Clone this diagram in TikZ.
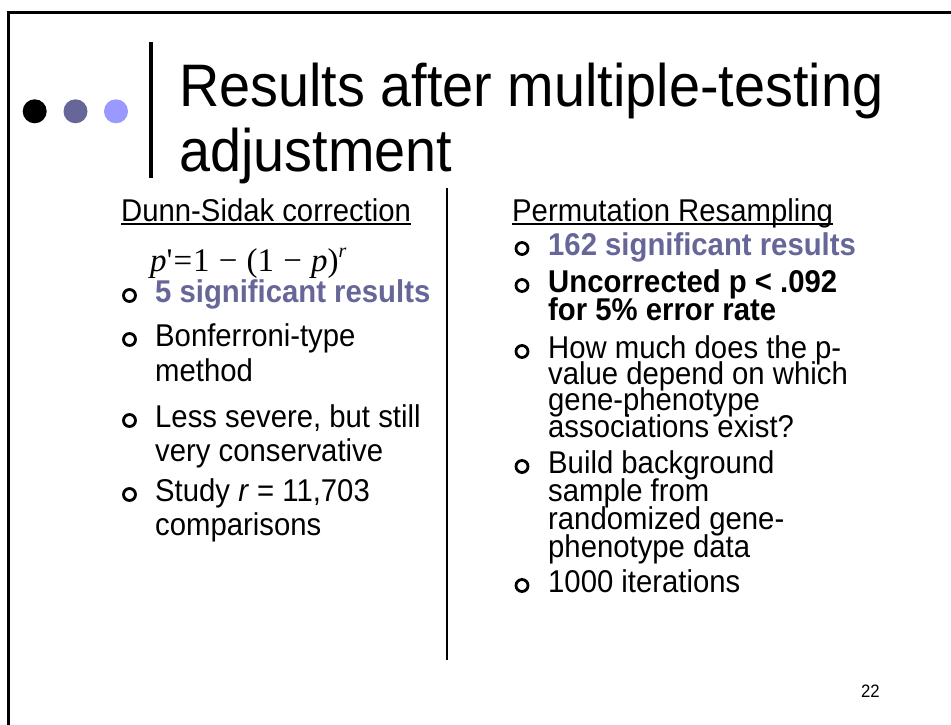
\documentclass[tikz,border=0pt]{standalone}
\usepackage{fontspec}
\setmainfont{Liberation Sans}[FakeStretch=0.93]
\newfontfamily\eqfont{Liberation Serif}
\definecolor{accent}{HTML}{666699}
\definecolor{lightaccent}{HTML}{9999FF}
\begin{document}
\begin{tikzpicture}[x=1pt,y=-1pt,
  line/.style={anchor=base west,inner sep=0pt,font=\fontsize{31.5}{36}\selectfont},
  hot/.style={line,font=\fontsize{31.5}{36}\selectfont\bfseries,text=accent},
  strong/.style={line,font=\fontsize{31.5}{36}\selectfont\bfseries},
  ttl/.style={anchor=base west,inner sep=0pt,font=\fontsize{60}{65}\selectfont},
  ring/.style={circle,draw,line width=2.8pt,minimum size=12pt,inner sep=0pt},
  dot/.style={circle,minimum size=24pt,inner sep=0pt}]
\useasboundingbox (0,0) rectangle (951,725);
\fill[white] (0,0) rectangle (951,725);

% slide frame
\draw[line width=3pt] (951,12.5) -- (8.2,12.5) -- (8.2,725);

% title decoration
\node[dot,fill=black] (d1) at (34.7,111.3) {};
\node[dot,fill=accent] (d2) at (75.5,111.3) {};
\node[dot,fill=lightaccent] (d3) at (116,111.3) {};
\draw[line width=3.5pt] (150.8,42) -- (150.8,178);

% title
\node[ttl] (t1) at (179,106.5) {Results after multiple-testing};
\node[ttl] (t2) at (179,171.5) {adjustment};

% column divider
\draw[line width=2.5pt] (447,188) -- (447,660);

% left column
\node[line] (lh) at (121,221) {Dunn-Sidak correction};
\draw[line width=1.8pt] ([yshift=-3pt]lh.base west) -- ([yshift=-3pt]lh.base east);
\node[anchor=base west,inner sep=0pt,font=\eqfont\fontsize{33}{36}\selectfont] (eq) at (150,271)
  {\itshape p\/\upshape'\kern1pt=\kern1pt1\;−\;(1\;−\;\itshape p\/\upshape)\raisebox{0.42em}{\fontsize{20}{22}\selectfont\itshape r}};
\node[hot] (l1) at (155,302) {5 significant results};
\node[line] (l2a) at (155,346) {Bonferroni-type};
\node[line] (l2b) at (155,381) {method};
\node[line] (l3a) at (155,427) {Less severe, but still};
\node[line] (l3b) at (155,461) {very conservative};
\node[line] (l4a) at (155,501) {Study \textit{r} = 11,703};
\node[line] (l4b) at (155,535) {comparisons};
\foreach \n/\y in {1/302,2/346,3/427,4/501}
  \node[ring] (lb\n) at (129.5,\y-6.5) {};

% right column
\node[line] (rh) at (512,221) {Permutation Resampling};
\draw[line width=1.8pt] ([yshift=-3pt]rh.base west) -- ([yshift=-3pt]rh.base east);
\node[hot] (r1) at (548,255) {162 significant results};
\node[strong] (r2a) at (548,292) {Uncorrected p < .092};
\node[strong] (r2b) at (548,320) {for 5\% error rate};
\node[line] (r3a) at (548,358) {How much does the p-};
\node[line] (r3b) at (548,384) {value depend on which};
\node[line] (r3c) at (548,410) {gene-phenotype};
\node[line] (r3d) at (548,437) {associations exist?};
\node[line] (r4a) at (548,473) {Build background};
\node[line] (r4b) at (548,501) {sample from};
\node[line] (r4c) at (548,529) {randomized gene-};
\node[line] (r4d) at (548,557) {phenotype data};
\node[line] (r5) at (548,592) {1000 iterations};
\foreach \n/\y in {1/255,2/292,3/358,4/473,5/592}
  \node[ring] (rb\n) at (522,\y-6.5) {};

% page number
\node[anchor=base east,inner sep=0pt,font=\fontsize{18}{20}\selectfont] (pg) at (880,697) {22};
\end{tikzpicture}
\end{document}
